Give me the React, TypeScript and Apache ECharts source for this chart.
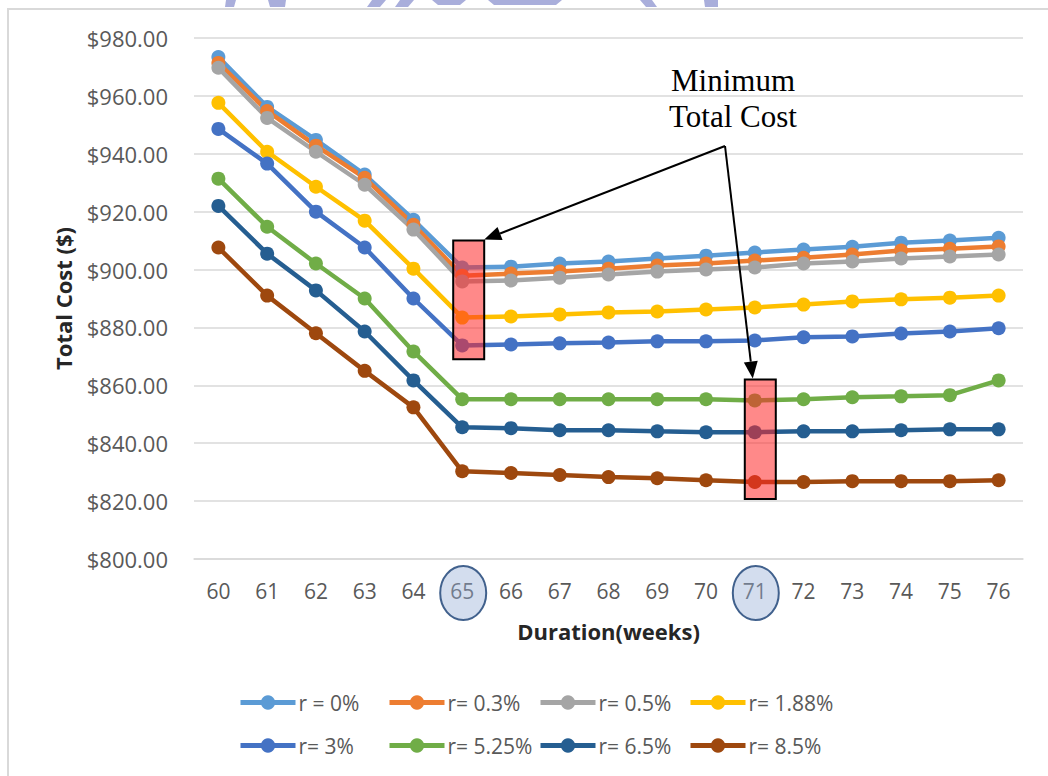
import React, { useEffect, useRef } from "react";
import * as echarts from "echarts";

const weeks = ["60", "61", "62", "63", "64", "65", "66", "67", "68", "69", "70", "71", "72", "73", "74", "75", "76"];
const seriesNames = ["r = 0%", "r= 0.3%", "r= 0.5%", "r= 1.88%", "r= 3%", "r= 5.25%", "r= 6.5%", "r= 8.5%"];
const seriesColors = ["#5B9BD5", "#ED7D31", "#A5A5A5", "#FFC000", "#4472C4", "#70AD47", "#255E91", "#9E480E"];

const r0 = [973.4, 956.2, 944.8, 932.8, 917.2, 900.7, 901.0, 902.1, 902.8, 903.8, 904.8, 905.9, 906.9, 907.9, 909.3, 910.0, 911.0];
const r03 = [971.4, 954.8, 942.8, 931.7, 915.5, 897.9, 898.6, 899.3, 900.3, 901.4, 902.1, 903.1, 904.1, 905.2, 906.6, 907.2, 908.0];
const r05 = [969.7, 952.4, 940.7, 929.3, 913.8, 895.9, 896.2, 897.2, 898.3, 899.3, 900.0, 900.7, 902.1, 902.8, 903.8, 904.5, 905.2];
const r188 = [957.6, 940.7, 928.6, 916.9, 900.3, 883.4, 883.8, 884.5, 885.2, 885.5, 886.2, 886.9, 887.9, 889.0, 889.7, 890.3, 891.0];
const r3 = [948.6, 936.6, 920.0, 907.6, 890.0, 873.8, 874.1, 874.5, 874.8, 875.2, 875.2, 875.5, 876.6, 876.9, 877.9, 878.6, 879.7];
const r525 = [931.4, 914.8, 902.1, 890.0, 871.7, 855.2, 855.2, 855.2, 855.2, 855.2, 855.2, 854.8, 855.2, 855.9, 856.2, 856.6, 861.7];
const r65 = [922.0, 905.5, 892.8, 878.6, 861.7, 845.5, 845.2, 844.5, 844.5, 844.1, 843.8, 843.8, 844.1, 844.1, 844.5, 844.8, 844.8];
const r85 = [907.6, 891.0, 878.0, 865.0, 852.4, 830.3, 829.7, 829.0, 828.3, 827.9, 827.2, 826.6, 826.6, 826.9, 826.9, 826.9, 827.2];
const seriesValues = [r0, r03, r05, r188, r3, r525, r65, r85];

const yMin = 800;
const yMax = 980;
const yStep = 20;

const annotationText = "Minimum\nTotal Cost";
const minWeekIndices = [5, 11];

const FONT = "'Open Sans', sans-serif";

function arrow(x1: number, y1: number, x2: number, y2: number) {
  const dx = x2 - x1;
  const dy = y2 - y1;
  const len = Math.sqrt(dx * dx + dy * dy);
  const ux = dx / len;
  const uy = dy / len;
  const hl = 17;
  const hw = 7;
  const bx = x2 - ux * hl;
  const by = y2 - uy * hl;
  return [
    {
      type: "line",
      z: 110,
      shape: { x1, y1, x2: bx, y2: by },
      style: { stroke: "#000", lineWidth: 2 },
    },
    {
      type: "polygon",
      z: 110,
      shape: {
        points: [
          [x2, y2],
          [bx - uy * hw, by + ux * hw],
          [bx + uy * hw, by - ux * hw],
        ],
      },
      style: { fill: "#000" },
    },
  ];
}

export default function App() {
  const ref = useRef<HTMLDivElement>(null);

  useEffect(() => {
    document.body.style.margin = "0";
    if (!ref.current) return;
    const chart = echarts.init(ref.current, null, { renderer: "svg" });

    const legendPos = [
      [238, 692], [387, 692], [538, 692], [688, 692],
      [238, 735], [387, 735], [538, 735], [688, 735],
    ];

    const option: any = {
      animation: false,
      backgroundColor: "#ffffff",
      grid: { left: 194, right: 25, top: 38, bottom: 217, containLabel: false },
      xAxis: {
        type: "category",
        data: weeks,
        boundaryGap: true,
        name: "Duration(weeks)",
        nameLocation: "middle",
        nameGap: 61,
        nameTextStyle: { fontFamily: FONT, fontSize: 22, fontWeight: "bold", color: "#262626" },
        axisLine: { show: true, lineStyle: { color: "#D9D9D9", width: 1.5 } },
        axisTick: { show: false },
        axisLabel: { fontFamily: FONT, fontSize: 21, color: "#595959", margin: 21 },
        splitLine: { show: false },
      },
      yAxis: {
        type: "value",
        min: yMin,
        max: yMax,
        interval: yStep,
        name: "Total Cost ($)",
        nameLocation: "middle",
        nameRotate: 90,
        nameGap: 120,
        nameTextStyle: { fontFamily: FONT, fontSize: 22, fontWeight: "bold", color: "#262626" },
        axisLine: { show: false },
        axisTick: { show: false },
        axisLabel: {
          fontFamily: FONT,
          fontSize: 22,
          color: "#595959",
          margin: 26,
          formatter: (v: number) => "$" + v.toFixed(2),
        },
        splitLine: { show: true, lineStyle: { color: "#D9D9D9", width: 1.5 } },
      },
      legend: seriesNames.map((n, i) => ({
        data: [n],
        left: legendPos[i][0],
        top: legendPos[i][1],
        padding: 0,
        itemWidth: 55,
        itemHeight: 18,
        itemGap: 0,
        selectedMode: false,
        lineStyle: { width: 5 },
        textStyle: { fontFamily: FONT, fontSize: 21, color: "#595959", padding: [0, 0, 0, -2] },
      })),
      series: seriesNames.map((n, i) => ({
        name: n,
        type: "line",
        data: seriesValues[i],
        symbol: "circle",
        symbolSize: 14,
        lineStyle: { width: 4.5, color: seriesColors[i] },
        itemStyle: { color: seriesColors[i] },
        emphasis: { disabled: true },
      })),
    };

    chart.setOption(option);

    const p = (xi: number, v: number) => chart.convertToPixel({ xAxisIndex: 0, yAxisIndex: 0 }, [xi, v]) as number[];
    const box1Top = p(minWeekIndices[0], 910.0);
    const box1Bot = p(minWeekIndices[0], 869.0);
    const box2Top = p(minWeekIndices[1], 862.0);
    const box2Bot = p(minWeekIndices[1], 820.7);
    const axisY = p(0, yMin)[1];

    const boxes = [
      [box1Top[0] - 9, box1Top[1], 31, box1Bot[1] - box1Top[1]],
      [box2Top[0] - 10, box2Top[1], 31, box2Bot[1] - box2Top[1]],
    ].map((b) => ({
      type: "rect",
      z: 105,
      shape: { x: b[0], y: b[1], width: b[2], height: b[3] },
      style: { fill: "rgba(255, 40, 40, 0.55)", stroke: "#000", lineWidth: 2 },
    }));

    const circles = minWeekIndices.map((idx) => ({
      type: "ellipse",
      z: 105,
      shape: { cx: p(idx, yMin)[0] + 1, cy: axisY + 34, rx: 23, ry: 27 },
      style: { fill: "rgba(150, 175, 215, 0.42)", stroke: "#41618D", lineWidth: 2 },
    }));

    const apexX = 725;
    const apexY = 146;
    const arrows = [
      ...arrow(apexX, apexY, box1Top[0] + 22, box1Top[1] - 1),
      ...arrow(apexX, apexY, box2Top[0] - 2, box2Top[1] - 1),
    ];

    const watermark = [
      [[226, 0], [236, 0], [234, 7], [225, 7]],
      [[268, 0], [286, 0], [285, 7], [270, 7]],
      [[372, 0], [386, 0], [380, 7], [367, 7]],
      [[400, 0], [414, 0], [408, 7], [395, 7]],
      [[432, 0], [466, 0], [460, 5], [438, 5]],
      [[488, 0], [562, 0], [556, 5], [494, 5]],
      [[640, 0], [652, 0], [657, 7], [646, 7]],
      [[704, 0], [718, 0], [718, 7], [705, 7]],
    ].map((pts) => ({
      type: "polygon",
      z: 1,
      shape: { points: pts },
      style: { fill: "#A9AEDB" },
    }));

    chart.setOption({
      graphic: [
        ...watermark,
        {
          type: "rect",
          z: 1,
          shape: { x: 8, y: 9, width: 1100, height: 820 },
          style: { fill: "none", stroke: "#D9D9D9", lineWidth: 2 },
        },
        ...boxes,
        ...circles,
        ...arrows,
        {
          type: "text",
          z: 110,
          x: 733,
          y: 98,
          style: {
            text: annotationText,
            fontFamily: "'Liberation Serif', 'Times New Roman', serif",
            fontSize: 31,
            lineHeight: 36,
            fill: "#000",
            align: "center",
            verticalAlign: "middle",
          },
        },
      ],
    });

    return () => chart.dispose();
  }, []);

  return <div ref={ref} style={{ width: 1048, height: 776 }} />;
}
